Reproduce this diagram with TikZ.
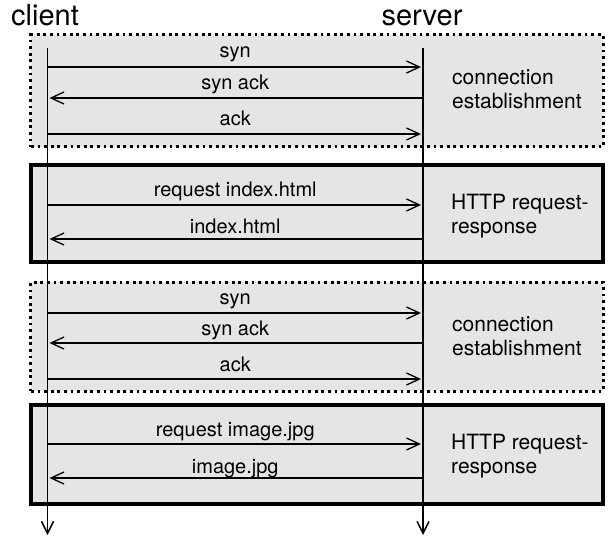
\documentclass[tikz,border=0pt]{standalone}
\usepackage{fontspec}
\setmainfont{TeX Gyre Heros}
\usetikzlibrary{arrows.meta}
\definecolor{boxgray}{HTML}{E5E5E5}
\tikzset{
  dotbox/.style={draw, line width=3bp, dash pattern=on 2.8bp off 3.8bp, line cap=butt, fill=boxgray, rectangle, minimum width=572bp, inner sep=0pt},
  solidbox/.style={draw, line width=3.2bp, fill=boxgray, rectangle, minimum width=572bp, inner sep=0pt},
  lifeline/.style={line width=1.5bp, -{Straight Barb[length=12bp,width=12bp,line width=1.5bp]}},
  msg/.style={line width=1.3bp, -{Straight Barb[length=13bp,width=12bp,line width=1.3bp]}, shorten >=2bp},
  msglabel/.style={font=\fontsize{20bp}{22bp}\selectfont, midway, anchor=base, inner sep=0pt},
  actor/.style={font=\fontsize{29bp}{31bp}\selectfont, inner sep=0pt, anchor=base},
  phase/.style={font=\fontsize{21bp}{24bp}\selectfont, inner sep=0pt, anchor=base west}
}
\begin{document}
\begin{tikzpicture}[x=1bp, y=-1bp]
\useasboundingbox (0,0) rectangle (609,536);
% boxes
\node[dotbox, minimum height=112bp] (b1) at (317,91) {};
\node[solidbox, minimum height=97bp] (b2) at (317,213.5) {};
\node[dotbox, minimum height=109bp] (b3) at (317,336.5) {};
\node[solidbox, minimum height=99bp] (b4) at (317,454.5) {};
% actors
\node[actor] (client) at (45,26) {client};
\node[actor] (server) at (422,26) {server};
% lifelines
\coordinate (ctop) at (47.5,48);
\coordinate (cbot) at (47.5,535);
\coordinate (stop) at (423,48);
\coordinate (sbot) at (423,535);
\draw[lifeline] (ctop) -- (cbot);
\draw[lifeline] (stop) -- (sbot);
% message coordinates
\foreach \n/\y in {m1/67, m2/98, m3/134, m4/205, m5/239, m6/313, m7/343, m8/379, m9/444, m10/478}{
  \coordinate (c\n) at (47.5,\y);
  \coordinate (s\n) at (423,\y);
}
\draw[msg] (cm1) -- node[msglabel, yshift=9bp] {syn} (sm1);
\draw[msg] (sm2) -- node[msglabel, yshift=8bp] {syn ack} (cm2);
\draw[msg] (cm3) -- node[msglabel, yshift=8bp] {ack} (sm3);
\draw[msg] (cm4) -- node[msglabel, yshift=8bp] {request index.html} (sm4);
\draw[msg] (sm5) -- node[msglabel, yshift=5bp] {index.html} (cm5);
\draw[msg] (cm6) -- node[msglabel, yshift=9bp] {syn} (sm6);
\draw[msg] (sm7) -- node[msglabel, yshift=8bp] {syn ack} (cm7);
\draw[msg] (cm8) -- node[msglabel, yshift=8bp] {ack} (sm8);
\draw[msg] (cm9) -- node[msglabel, yshift=8bp] {request image.jpg} (sm9);
\draw[msg] (sm10) -- node[msglabel, yshift=5bp] {image.jpg} (cm10);
% phase labels
\node[phase] (p1a) at (452,85) {connection};
\node[phase] (p1b) at (452,109) {establishment};
\node[phase] (p2a) at (451,210) {HTTP request-};
\node[phase] (p2b) at (451,234) {response};
\node[phase] (p3a) at (452,331) {connection};
\node[phase] (p3b) at (452,355) {establishment};
\node[phase] (p4a) at (451,449) {HTTP request-};
\node[phase] (p4b) at (451,473) {response};
\end{tikzpicture}
\end{document}
